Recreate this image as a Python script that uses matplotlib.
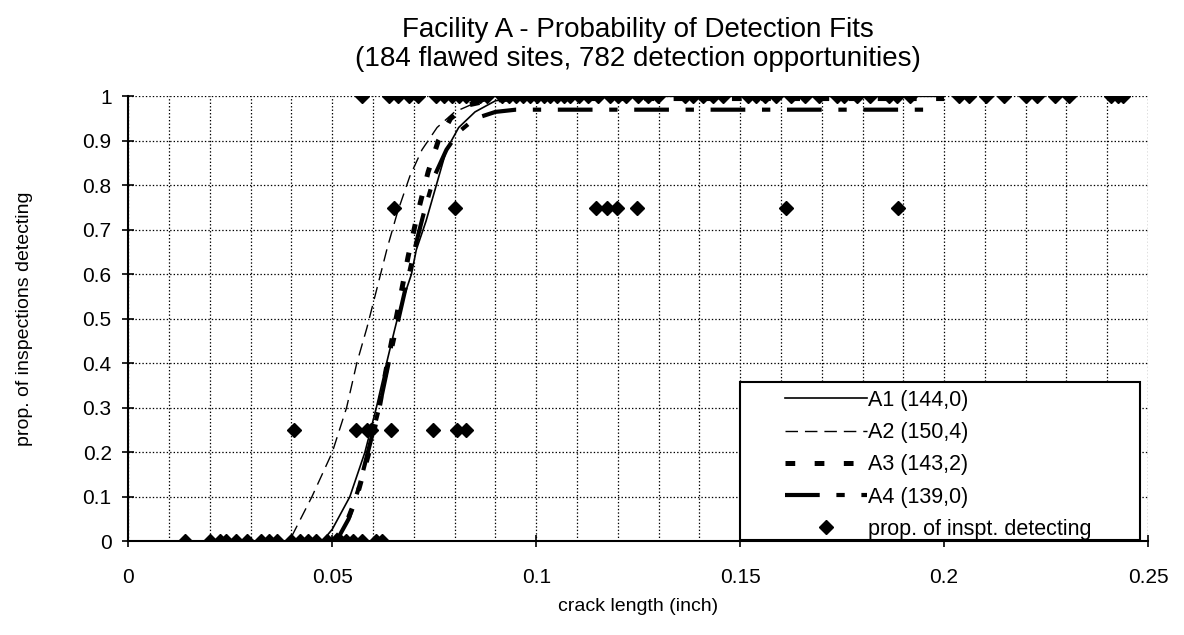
import numpy as np
import matplotlib
matplotlib.use("Agg")
import matplotlib.pyplot as plt
from matplotlib.patches import Rectangle

plt.rcParams["font.family"] = ["Liberation Sans", "DejaVu Sans"]
plt.rcParams["lines.scale_dashes"] = False

# fitted POD curves
a1_x = [0.048, 0.050, 0.0543, 0.058, 0.0608, 0.0633, 0.0653, 0.0665, 0.0694, 0.0706,
        0.073, 0.0755, 0.078, 0.081, 0.085, 0.090, 0.095, 0.100, 0.200]
a1_y = [0.005, 0.027, 0.10, 0.20, 0.30, 0.40, 0.476, 0.52, 0.60, 0.655,
        0.72, 0.80, 0.88, 0.93, 0.965, 0.99, 0.997, 1.0, 1.0]

a2_x = [0.040, 0.045, 0.050, 0.0535, 0.056, 0.0585, 0.061, 0.0635, 0.066, 0.069,
        0.072, 0.0757, 0.080, 0.085, 0.090, 0.100, 0.200]
a2_y = [0.01, 0.10, 0.20, 0.30, 0.40, 0.48, 0.57, 0.66, 0.74, 0.82,
        0.88, 0.93, 0.965, 0.985, 0.995, 1.0, 1.0]

a3_x = [0.050, 0.053, 0.056, 0.059, 0.0615, 0.0635, 0.065, 0.0665, 0.0686, 0.071,
        0.0735, 0.076, 0.079, 0.083, 0.088, 0.095, 0.200]
a3_y = [0.0, 0.03, 0.10, 0.20, 0.30, 0.40, 0.47, 0.54, 0.64, 0.74,
        0.83, 0.90, 0.95, 0.98, 0.99, 0.995, 0.995]

a4_x = [0.051, 0.054, 0.0565, 0.059, 0.0615, 0.0638, 0.066, 0.068, 0.070, 0.0725,
        0.075, 0.078, 0.081, 0.085, 0.090, 0.095, 0.196]
a4_y = [0.0, 0.05, 0.12, 0.21, 0.30, 0.40, 0.49, 0.57, 0.65, 0.74,
        0.82, 0.88, 0.92, 0.95, 0.965, 0.97, 0.97]

# observed proportions
obs0_x = [0.014, 0.020, 0.0225, 0.024, 0.0265, 0.029, 0.0325, 0.0345, 0.0365, 0.040,
          0.042, 0.044, 0.046, 0.0488, 0.052, 0.0533, 0.055, 0.0573, 0.0606, 0.0622]
obs25_x = [0.0405, 0.0558, 0.0585, 0.0595, 0.0644, 0.0746, 0.0806, 0.0827]
obs75_x = [0.0652, 0.0801, 0.1146, 0.1173, 0.1197, 0.1246, 0.1613, 0.1887]
obs1_x = [0.0573, 0.064, 0.066, 0.0688, 0.0709, 0.0754, 0.0774, 0.0793, 0.081, 0.0828,
          0.0845, 0.0862, 0.0879, 0.0916, 0.0933, 0.095, 0.0967, 0.0984, 0.1001, 0.1018,
          0.1035, 0.1052, 0.1067, 0.1084, 0.1104, 0.1128, 0.1152, 0.1182, 0.1201, 0.1221,
          0.125, 0.1274, 0.1299, 0.1365, 0.1384, 0.1409, 0.1433, 0.1458, 0.1519, 0.1538,
          0.156, 0.1587, 0.1624, 0.1658, 0.1694, 0.1738, 0.1755, 0.1787, 0.1819, 0.1865,
          0.1885, 0.1917, 0.2036, 0.2061, 0.2104, 0.2148, 0.2202, 0.2227, 0.2271, 0.2307,
          0.241, 0.2427, 0.2439]

obs_x = obs0_x + obs25_x + obs75_x + obs1_x
obs_y = [0.0] * len(obs0_x) + [0.25] * len(obs25_x) + [0.75] * len(obs75_x) + [1.0] * len(obs1_x)

fig = plt.figure(figsize=(11.84, 6.35), dpi=100)
ax = fig.add_axes([0.1084, 0.1476, 0.8612, 0.7007])

ax.plot(a1_x, a1_y, color="black", lw=1.2, label="A1 (144,0)", zorder=3)
ax.plot(a2_x, a2_y, color="black", lw=1.0, dashes=(9, 5), label="A2 (150,4)", zorder=3)
ax.plot(a3_x, a3_y, color="black", lw=3.6, dashes=(7, 14), label="A3 (143,2)", zorder=3)
ax.plot(a4_x, a4_y, color="black", lw=3.0, dashes=(25, 12, 6, 12), label="A4 (139,0)", zorder=3)
ax.plot(obs_x, obs_y, linestyle="none", marker="D", markersize=7, color="black",
        label="prop. of inspt. detecting", zorder=4)

ax.set_xlim(0, 0.25)
ax.set_ylim(0, 1)
ax.set_xticks(np.arange(0, 0.2501, 0.05))
ax.set_xticklabels(["0", "0.05", "0.1", "0.15", "0.2", "0.25"])
ax.set_xticks(np.arange(0, 0.2501, 0.01), minor=True)
ax.set_yticks(np.arange(0, 1.001, 0.1))
ax.set_yticklabels(["0", "0.1", "0.2", "0.3", "0.4", "0.5", "0.6", "0.7", "0.8", "0.9", "1"])
ax.grid(True, which="both", color="black", linestyle=(0, (1, 1.5)), linewidth=0.9)
ax.set_axisbelow(True)
ax.tick_params(axis="both", which="major", direction="inout", length=8, width=1.2,
               labelsize=15)
ax.tick_params(axis="x", which="major", pad=15)
ax.tick_params(axis="y", which="major", pad=8)
ax.tick_params(axis="x", which="minor", length=0)
for side in ["top", "right"]:
    ax.spines[side].set_visible(False)
for side in ["left", "bottom"]:
    ax.spines[side].set_linewidth(1.5)

ax.set_title("Facility A - Probability of Detection Fits\n"
             "(184 flawed sites, 782 detection opportunities)",
             fontsize=20, linespacing=1.15, pad=22)
ax.set_xlabel("crack length (inch)", fontsize=14, labelpad=8)
ax.set_ylabel("prop. of inspections detecting", fontsize=14, labelpad=36)

box = Rectangle((0.6, 0.003), 0.392, 0.355, transform=ax.transAxes, facecolor="white",
                edgecolor="black", linewidth=1.5, zorder=5)
ax.add_patch(box)
leg = ax.legend(loc="upper left", bbox_to_anchor=(0.644, 0.34), frameon=False,
                fontsize=15.5, handlelength=3.8, handletextpad=0.05, labelspacing=0.52,
                borderpad=0, borderaxespad=0)
leg.set_zorder(6)

fig.savefig("out.png", dpi=100)
